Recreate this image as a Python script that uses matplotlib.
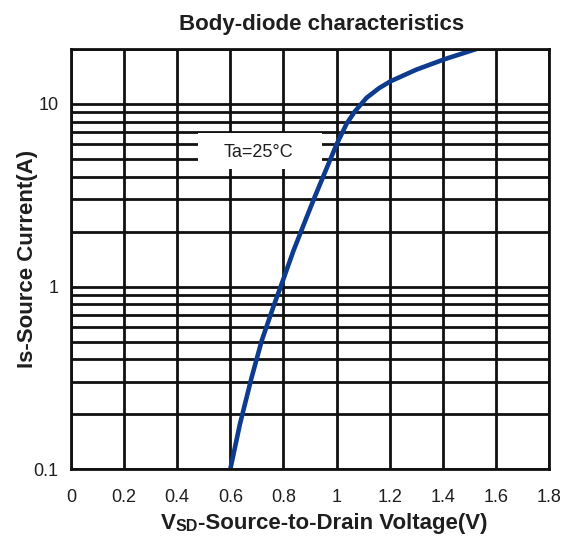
import matplotlib
matplotlib.use("Agg")
from matplotlib import pyplot as plt
from matplotlib.patches import Rectangle
from matplotlib.ticker import FixedLocator, LogLocator, NullFormatter

plt.rcParams['font.family'] = ['Liberation Sans', 'DejaVu Sans']

# curve
vsd = [0.60, 0.636, 0.68, 0.718, 0.761, 0.80, 0.837, 0.887, 0.92, 0.962, 1.00,
       1.038, 1.069, 1.113, 1.16, 1.203, 1.30, 1.408, 1.527]
i_s = [0.10, 0.176, 0.317, 0.504, 0.767, 1.10, 1.56, 2.39, 3.15, 4.42, 6.0,
       7.8, 9.1, 10.8, 12.2, 13.3, 15.4, 17.6, 20.0]

x_ticks = [0, 0.2, 0.4, 0.6, 0.8, 1.0, 1.2, 1.4, 1.6, 1.8]
x_labels = ['0', '0.2', '0.4', '0.6', '0.8', '1', '1.2', '1.4', '1.6', '1.8']
y_ticks = [0.1, 1, 10]
y_labels = ['0.1', '1', '10']

ink = '#1e1e1e'

fig = plt.figure(figsize=(5.66, 5.38), dpi=100)
ax = fig.add_axes([0.1254, 0.128, 0.8446, 0.781])

ax.set_yscale('log')
ax.set_xlim(0, 1.8)
ax.set_ylim(0.1, 20)

ax.xaxis.set_major_locator(FixedLocator(x_ticks))
ax.set_xticklabels(x_labels)
ax.yaxis.set_major_locator(FixedLocator(y_ticks))
ax.set_yticklabels(y_labels)
ax.yaxis.set_minor_locator(LogLocator(base=10, subs=range(2, 10)))
ax.yaxis.set_minor_formatter(NullFormatter())
ax.tick_params(which='both', length=0)
ax.tick_params(axis='x', pad=14, labelsize=13, colors=ink)
ax.tick_params(axis='y', pad=9, labelsize=13, colors=ink)

ax.set_axisbelow(True)
ax.grid(which='both', color='#111111', linewidth=2)
for s in ax.spines.values():
    s.set_linewidth(2)
    s.set_color('#111111')

# white box behind the temperature note
ax.add_patch(Rectangle((0.477, 4.39), 0.467, 2.54, facecolor='white', edgecolor='none', zorder=1))
ax.text(0.705, 5.45, 'Ta=25°C', ha='center', va='center', fontsize=13, color=ink, zorder=3)

ax.plot(vsd, i_s, color='#0d3c8e', linewidth=3.3, solid_capstyle='butt',
        solid_joinstyle='round', zorder=2)

ax.set_title('Body-diode characteristics', fontsize=16, fontweight='bold', color=ink,
             pad=14, x=0.525)
ax.set_ylabel('Is-Source Current(A)', fontsize=16, fontweight='bold', color=ink)
ax.yaxis.set_label_coords(-0.068, 0.5)

# x label with small "SD" after the V
t1 = fig.text(0.2845, 0.0167, 'V', fontsize=16, fontweight='bold', color=ink)
t2 = ax.annotate('SD', xy=(1, 0), xycoords=t1, va='bottom', ha='left',
                 fontsize=11.5, fontweight='bold', color=ink)
ax.annotate('-Source-to-Drain Voltage(V)', xy=(1, 0), xycoords=t2, va='bottom', ha='left',
            fontsize=16, fontweight='bold', color=ink)

fig.savefig('out.png', dpi=100)
